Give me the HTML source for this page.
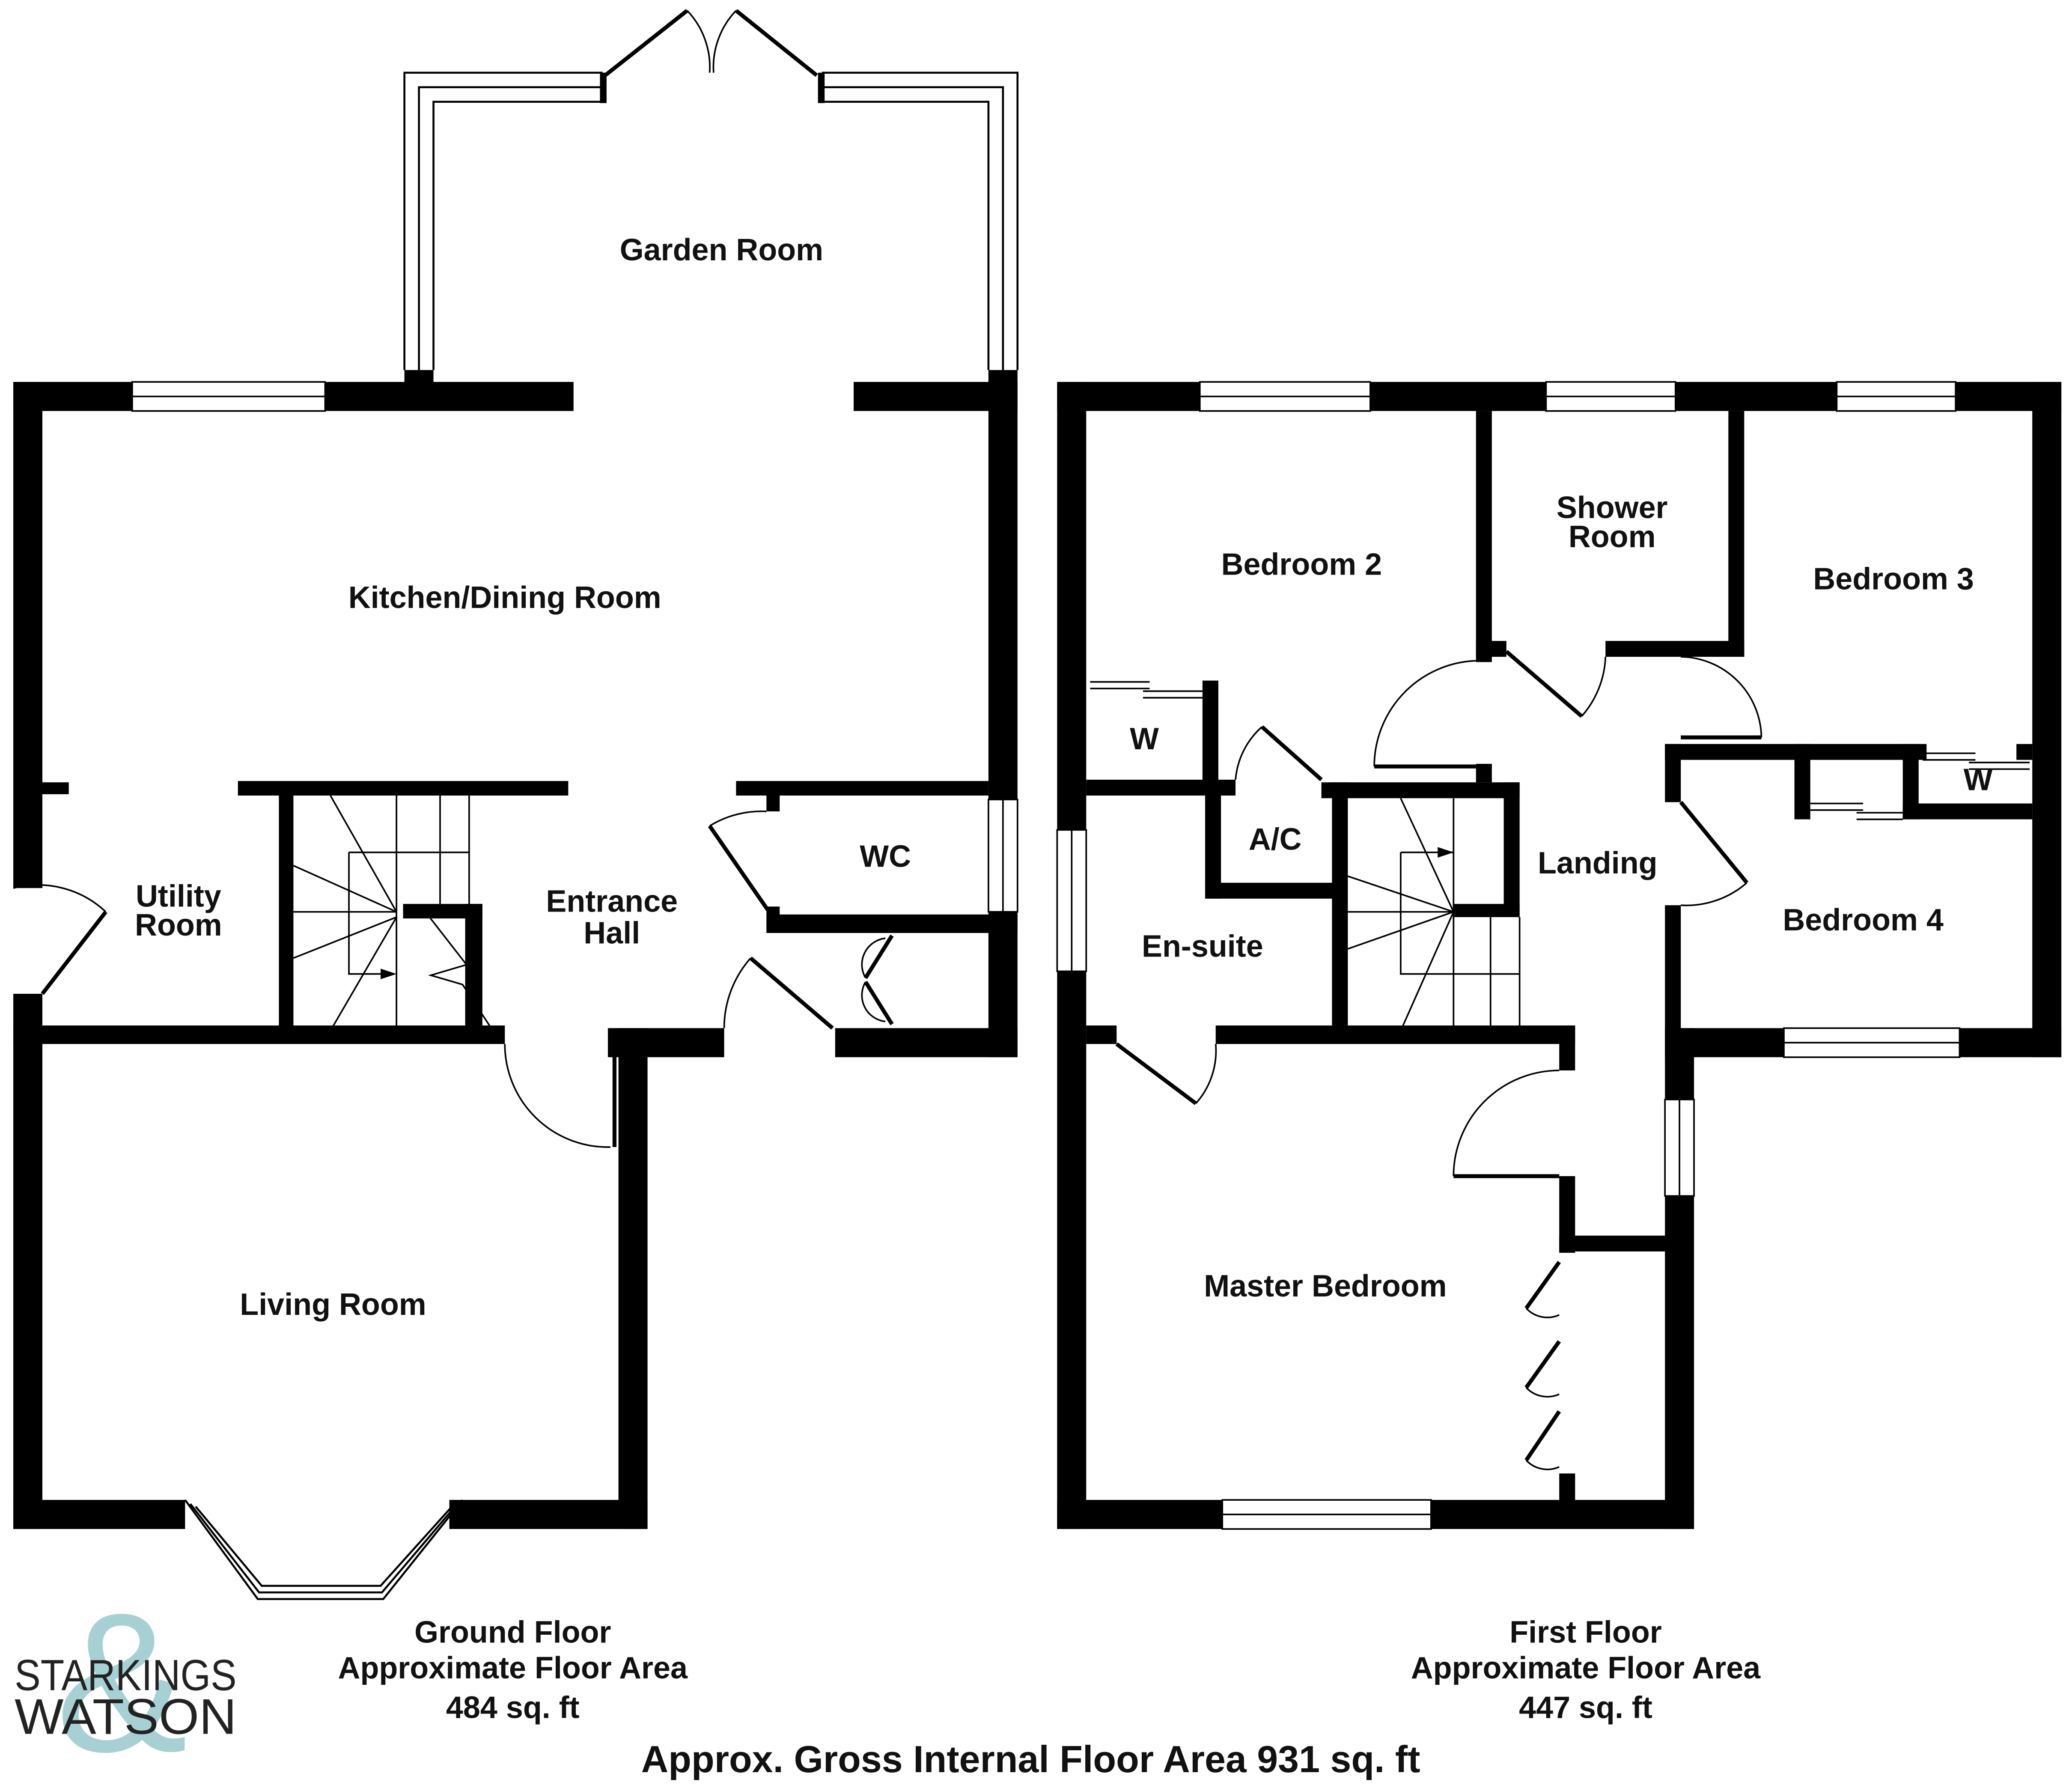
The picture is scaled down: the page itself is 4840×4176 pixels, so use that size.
<!DOCTYPE html>
<html><head><meta charset="utf-8"><style>
html,body{margin:0;padding:0;background:#fff}
svg{display:block}
text{font-family:"Liberation Sans",sans-serif;font-weight:bold;fill:#111;text-anchor:middle}
</style></head><body>
<svg width="4840" height="4176" viewBox="0 0 1568 1353" xmlns="http://www.w3.org/2000/svg">
<rect width="1568" height="1353" fill="#fff"/>
<g fill="#000">
<rect x="10" y="289" width="90" height="22"/>
<rect x="246" y="289" width="188" height="22"/>
<rect x="646" y="289" width="124" height="22"/>
<rect x="748" y="280" width="22" height="325"/>
<rect x="10" y="289" width="22" height="383"/>
<rect x="10" y="752" width="22" height="405"/>
<rect x="32" y="592" width="20" height="9"/>
<rect x="180" y="591" width="250" height="11"/>
<rect x="557" y="591" width="191" height="11"/>
<rect x="211" y="598" width="11" height="182"/>
<rect x="10" y="776" width="372" height="14"/>
<rect x="305" y="684" width="60" height="11"/>
<rect x="352" y="684" width="13" height="96"/>
<rect x="460" y="778" width="88" height="22"/>
<rect x="468" y="778" width="22" height="379"/>
<rect x="580" y="598" width="10" height="16"/>
<rect x="580" y="686" width="10" height="18"/>
<rect x="580" y="692" width="190" height="14"/>
<rect x="748" y="690" width="22" height="110"/>
<rect x="632" y="778" width="138" height="22"/>
<rect x="10" y="1135" width="130" height="22"/>
<rect x="340" y="1135" width="150" height="22"/>
<rect x="306" y="280" width="22" height="20"/>
<rect x="800" y="289" width="108" height="22"/>
<rect x="1037" y="289" width="133" height="22"/>
<rect x="1268" y="289" width="122" height="22"/>
<rect x="1480" y="289" width="80" height="22"/>
<rect x="800" y="289" width="22" height="339"/>
<rect x="800" y="735" width="22" height="422"/>
<rect x="800" y="1135" width="125" height="22"/>
<rect x="1083" y="1135" width="199" height="22"/>
<rect x="1538" y="289" width="22" height="511"/>
<rect x="1260" y="778" width="90" height="22"/>
<rect x="1483" y="778" width="77" height="22"/>
<rect x="1260" y="778" width="22" height="54"/>
<rect x="1260" y="905" width="22" height="252"/>
<rect x="1117" y="311" width="12" height="190"/>
<rect x="1117" y="485" width="23" height="12"/>
<rect x="1215" y="485" width="105" height="12"/>
<rect x="1308" y="311" width="12" height="186"/>
<rect x="1260" y="563" width="198" height="12"/>
<rect x="1260" y="563" width="12" height="44"/>
<rect x="1260" y="685" width="12" height="95"/>
<rect x="1358" y="563" width="12" height="57"/>
<rect x="1440" y="563" width="12" height="57"/>
<rect x="1440" y="608" width="98" height="12"/>
<rect x="1526" y="563" width="12" height="12"/>
<rect x="822" y="590" width="113" height="12"/>
<rect x="910" y="515" width="12" height="85"/>
<rect x="912" y="590" width="12" height="90"/>
<rect x="912" y="668" width="98" height="12"/>
<rect x="1000" y="592" width="150" height="12"/>
<rect x="1008" y="592" width="12" height="188"/>
<rect x="1138" y="592" width="12" height="102"/>
<rect x="1100" y="684" width="50" height="10"/>
<rect x="1117" y="578" width="12" height="14"/>
<rect x="822" y="776" width="23" height="14"/>
<rect x="920" y="776" width="272" height="14"/>
<rect x="1180" y="776" width="12" height="34"/>
<rect x="1180" y="890" width="12" height="58"/>
<rect x="1180" y="935" width="90" height="12"/>
<rect x="1180" y="1115" width="12" height="30"/>
</g>
<g fill="#fff" stroke="#000" stroke-width="1.2">
<rect x="100" y="289" width="146" height="22"/><line x1="100" y1="300" x2="246" y2="300"/>
<rect x="748" y="605" width="22" height="85"/><line x1="759" y1="605" x2="759" y2="690"/>
<rect x="908" y="289" width="129" height="22"/><line x1="908" y1="300" x2="1037" y2="300"/>
<rect x="1170" y="289" width="98" height="22"/><line x1="1170" y1="300" x2="1268" y2="300"/>
<rect x="1390" y="289" width="90" height="22"/><line x1="1390" y1="300" x2="1480" y2="300"/>
<rect x="800" y="628" width="22" height="107"/><line x1="811" y1="628" x2="811" y2="735"/>
<rect x="925" y="1135" width="158" height="22"/><line x1="925" y1="1146" x2="1083" y2="1146"/>
<rect x="1350" y="778" width="133" height="22"/><line x1="1350" y1="789" x2="1483" y2="789"/>
<rect x="1260" y="832" width="22" height="73"/><line x1="1271" y1="832" x2="1271" y2="905"/>
</g>
<g fill="none" stroke="#000" stroke-width="1.5">
<path d="M306 280 V55 H456 M328 280 V77 H456 M317 280 V66 H456"/>
<path d="M770 280 V55 H622 M748 280 V77 H622 M759 280 V66 H622"/>
<path d="M140 1135 L195 1210 H290 L350 1135 M148 1140 L198 1200 H288 L342 1140 M144 1138 L196 1205 H289 L346 1138"/>
</g>
<g fill="#000"><rect x="454" y="55" width="5" height="23"/><rect x="619" y="55" width="5" height="23"/></g>
<g fill="none" stroke="#000" stroke-width="3">
<line x1="458" y1="57" x2="520" y2="8"/><line x1="618" y1="57" x2="557" y2="8"/>
<line x1="32" y1="752" x2="80" y2="690"/><line x1="465" y1="790" x2="465" y2="868"/>
<line x1="568" y1="725" x2="630" y2="778"/><line x1="537" y1="625" x2="582" y2="690"/>
<line x1="1140" y1="493" x2="1197" y2="542"/><line x1="1272" y1="607" x2="1322" y2="668"/>
<line x1="1040" y1="580" x2="1117" y2="580"/><line x1="1272" y1="558" x2="1333" y2="558"/>
<line x1="845" y1="790" x2="905" y2="835"/><line x1="1100" y1="890" x2="1180" y2="890"/>
<line x1="955" y1="550" x2="1000" y2="590"/>
<line x1="1155" y1="990" x2="1180" y2="955"/><line x1="1155" y1="1050" x2="1180" y2="1015"/><line x1="1155" y1="1105" x2="1180" y2="1068"/>
<line x1="655" y1="740" x2="675" y2="708"/><line x1="655" y1="743" x2="675" y2="775"/>
</g>
<g fill="none" stroke="#000" stroke-width="1.2">
<path d="M520 8 A62 62 0 0 1 537 55"/><path d="M557 8 A62 62 0 0 0 540 55"/>
<path d="M80 690 A75 75 0 0 0 10 672"/><path d="M382 790 A78 78 0 0 0 462 868"/>
<path d="M548 778 A80 80 0 0 1 568 725"/><path d="M537 625 A75 75 0 0 1 580 614"/>
<path d="M1197 542 A72 72 0 0 0 1215 497"/><path d="M1322 668 A70 70 0 0 1 1272 685"/>
<path d="M1040 580 A80 80 0 0 1 1117 500"/><path d="M1333 558 A62 62 0 0 0 1272 497"/>
<path d="M905 835 A60 60 0 0 0 920 790"/><path d="M1100 890 A80 80 0 0 1 1180 810"/>
<path d="M955 550 A60 60 0 0 0 935 590"/>
<path d="M655 740 A20 20 0 0 1 670 710 M655 743 A20 20 0 0 0 670 773"/>
<path d="M1155 990 A22 22 0 0 0 1180 995 M1155 1050 A22 22 0 0 0 1180 1055 M1155 1105 A22 22 0 0 0 1180 1110"/>
<path d="M825 516 H870 M825 521 H870 M865 523 H910 M865 528 H910"/>
<path d="M1370 608 H1410 M1370 613 H1410 M1405 615 H1440 M1405 620 H1440"/>
<path d="M1455 570 H1495 M1455 575 H1495 M1490 577 H1536 M1490 582 H1536"/>
<path d="M222 690 H300 M300 602 V780 M333 602 V684 M355 602 V684 M264 645 H355 M264 645 V737 H298"/>
<path d="M300 690 L250 602 M300 690 L222 655 M300 694 L222 725 M300 694 L250 780"/>
<path d="M325 694 L353 730 L326 738 L350 745 L373 780"/>
<path d="M1020 690 H1100 M1100 604 V780 M1128 694 V780 M1150 694 V780 M1100 737 H1150 M1060 645 H1100 M1060 645 V737 H1100"/>
<path d="M1100 690 L1060 604 M1100 690 L1020 663 M1100 690 L1020 718 M1100 690 L1060 780"/>
</g>
<path d="M288 733 L300 737 L288 741Z M1088 641 L1100 645 L1088 649Z"/>
<g font-size="23.3">
<text x="546" y="197">Garden Room</text>
<text x="382" y="460">Kitchen/Dining Room</text>
<text x="135" y="686">Utility</text><text x="135" y="708">Room</text>
<text x="463" y="690">Entrance</text><text x="463" y="714">Hall</text>
<text x="670" y="656">WC</text>
<text x="252" y="995">Living Room</text>
<text x="985" y="435">Bedroom 2</text>
<text x="1220" y="392">Shower</text><text x="1220" y="414">Room</text>
<text x="1433" y="446">Bedroom 3</text>
<text x="866" y="567">W</text>
<text x="1497" y="598">W</text>
<text x="965" y="643">A/C</text>
<text x="1209" y="661">Landing</text>
<text x="910" y="724">En-suite</text>
<text x="1410" y="704">Bedroom 4</text>
<text x="1003" y="981">Master Bedroom</text>
<text x="388" y="1243">Ground Floor</text>
<text x="388" y="1270">Approximate Floor Area</text>
<text x="388" y="1300">484 sq. ft</text>
<text x="1200" y="1243">First Floor</text>
<text x="1200" y="1270">Approximate Floor Area</text>
<text x="1200" y="1300">447 sq. ft</text>
<text x="780" y="1341" font-size="28.5">Approx. Gross Internal Floor Area 931 sq. ft</text>
</g>
<text x="92" y="1325" font-size="150" style="fill:#a7d0d5;font-weight:normal">&amp;</text>
<text x="95" y="1279" font-size="33" style="fill:#222;font-weight:normal" textLength="168" lengthAdjust="spacingAndGlyphs">STARKINGS</text>
<text x="95" y="1312" font-size="38" style="fill:#222;font-weight:normal" textLength="168" lengthAdjust="spacingAndGlyphs">WATSON</text>
</svg>
</body></html>
